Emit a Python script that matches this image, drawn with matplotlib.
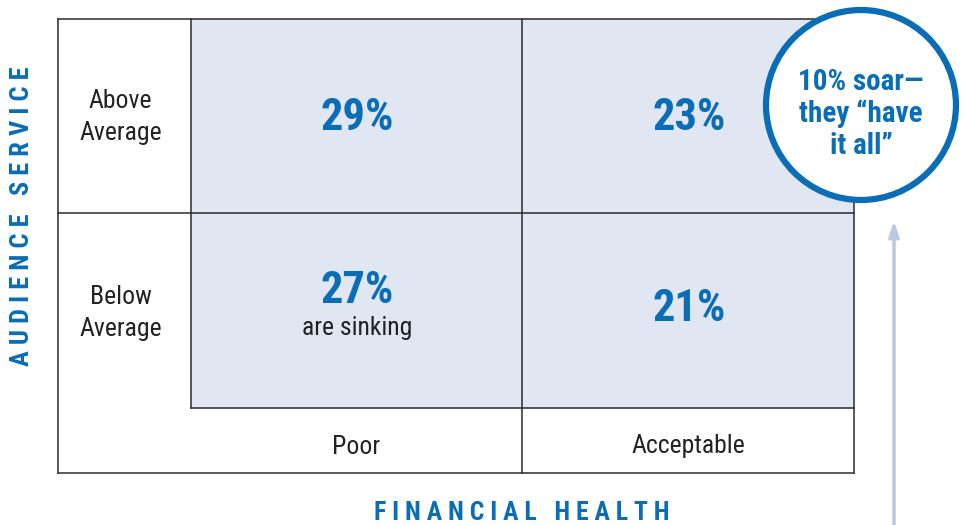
import matplotlib.pyplot as plt
from matplotlib.patches import Rectangle, Circle

# data
row_labels = ['Above\nAverage', 'Below\nAverage']
col_labels = ['Poor', 'Acceptable']
cell_values = [[29, 23], [27, 21]]
cell_notes = [['', ''], ['are sinking', '']]
callout_text = '10% soar\u2014\nthey \u201chave\nit all\u201d'
x_title = 'FINANCIAL HEALTH'
y_title = 'AUDIENCE SERVICE'

blue = '#0a6db5'
shade = '#e1e7f2'
line = '#2b2b2b'
cond = ['Roboto Condensed', 'Liberation Sans Narrow', 'DejaVu Sans']

# layout in pixels
x_edges = [58, 191, 522, 854]
y_edges = [19, 213, 408, 473]
row_text_y = [117, 313]
value_y = [118, 309]

fig = plt.figure(figsize=(9.65, 5.25), dpi=100)
ax = fig.add_axes([0, 0, 1, 1])
ax.set_xlim(0, 965)
ax.set_ylim(525, 0)
ax.axis('off')

# shaded cells
ax.add_patch(Rectangle((x_edges[1], y_edges[0]), x_edges[3] - x_edges[1],
                       y_edges[2] - y_edges[0], facecolor=shade, edgecolor='none', zorder=1))

lw = 1.1
ax.plot([x_edges[0], x_edges[3]], [y_edges[0]] * 2, color=line, lw=lw, zorder=2)
ax.plot([x_edges[0], x_edges[3]], [y_edges[1]] * 2, color=line, lw=lw, zorder=2)
ax.plot([x_edges[1], x_edges[3]], [y_edges[2]] * 2, color=line, lw=lw, zorder=2)
ax.plot([x_edges[0], x_edges[3]], [y_edges[3]] * 2, color=line, lw=lw, zorder=2)
ax.plot([x_edges[0]] * 2, [y_edges[0], y_edges[3]], color=line, lw=lw, zorder=2)
ax.plot([x_edges[1]] * 2, [y_edges[0], y_edges[2]], color=line, lw=lw, zorder=2)
ax.plot([x_edges[2]] * 2, [y_edges[0], y_edges[3]], color=line, lw=lw, zorder=2)
ax.plot([x_edges[3]] * 2, [y_edges[0], y_edges[3]], color=line, lw=lw, zorder=2)

# row labels
for i, lab in enumerate(row_labels):
    ax.text((x_edges[0] + x_edges[1]) / 2 - 4, row_text_y[i], lab, ha='center', va='center',
            fontsize=18.5, family=cond, color='#222222', linespacing=1.38)

# column labels
for j, lab in enumerate(col_labels):
    ax.text((x_edges[j + 1] + x_edges[j + 2]) / 2, (y_edges[2] + y_edges[3]) / 2 + 6,
            lab, ha='center', va='center', fontsize=18.5, family=cond, color='#222222')

# values
for i in range(2):
    for j in range(2):
        cx = (x_edges[j + 1] + x_edges[j + 2]) / 2 + 1
        if cell_notes[i][j]:
            ax.text(cx, value_y[i] - 18, f'{cell_values[i][j]}%', ha='center', va='center',
                    fontsize=32, fontweight='bold', family=cond, color=blue, zorder=3)
            ax.text(cx, value_y[i] + 19, cell_notes[i][j], ha='center', va='center',
                    fontsize=18.5, family=cond, color='#222222', zorder=3)
        else:
            ax.text(cx, value_y[i], f'{cell_values[i][j]}%', ha='center', va='center',
                    fontsize=32, fontweight='bold', family=cond, color=blue, zorder=3)

# arrow
ax.annotate('', xy=(894, 218), xytext=(894, 530),
            arrowprops=dict(arrowstyle='-|>,head_length=0.9,head_width=0.3',
                            color='#b9c8e3', lw=2.5), zorder=2)

# callout circle
ax.add_patch(Circle((861, 105), 95, facecolor='white', edgecolor=blue, lw=4.5, zorder=5))
ax.text(861, 114, callout_text, ha='center', va='center', fontsize=21,
        fontweight='bold', family=cond, color=blue, linespacing=1.15, zorder=6)

# axis titles
ax.text(522, 513, ' '.join(x_title), ha='center', va='center', fontsize=18.5,
        fontweight='bold', family=cond, color=blue)
ax.text(22, 216, ' '.join(y_title), ha='center', va='center', fontsize=19,
        fontweight='bold', family=cond, color=blue, rotation=90)

fig.savefig('out.png', dpi=100)
